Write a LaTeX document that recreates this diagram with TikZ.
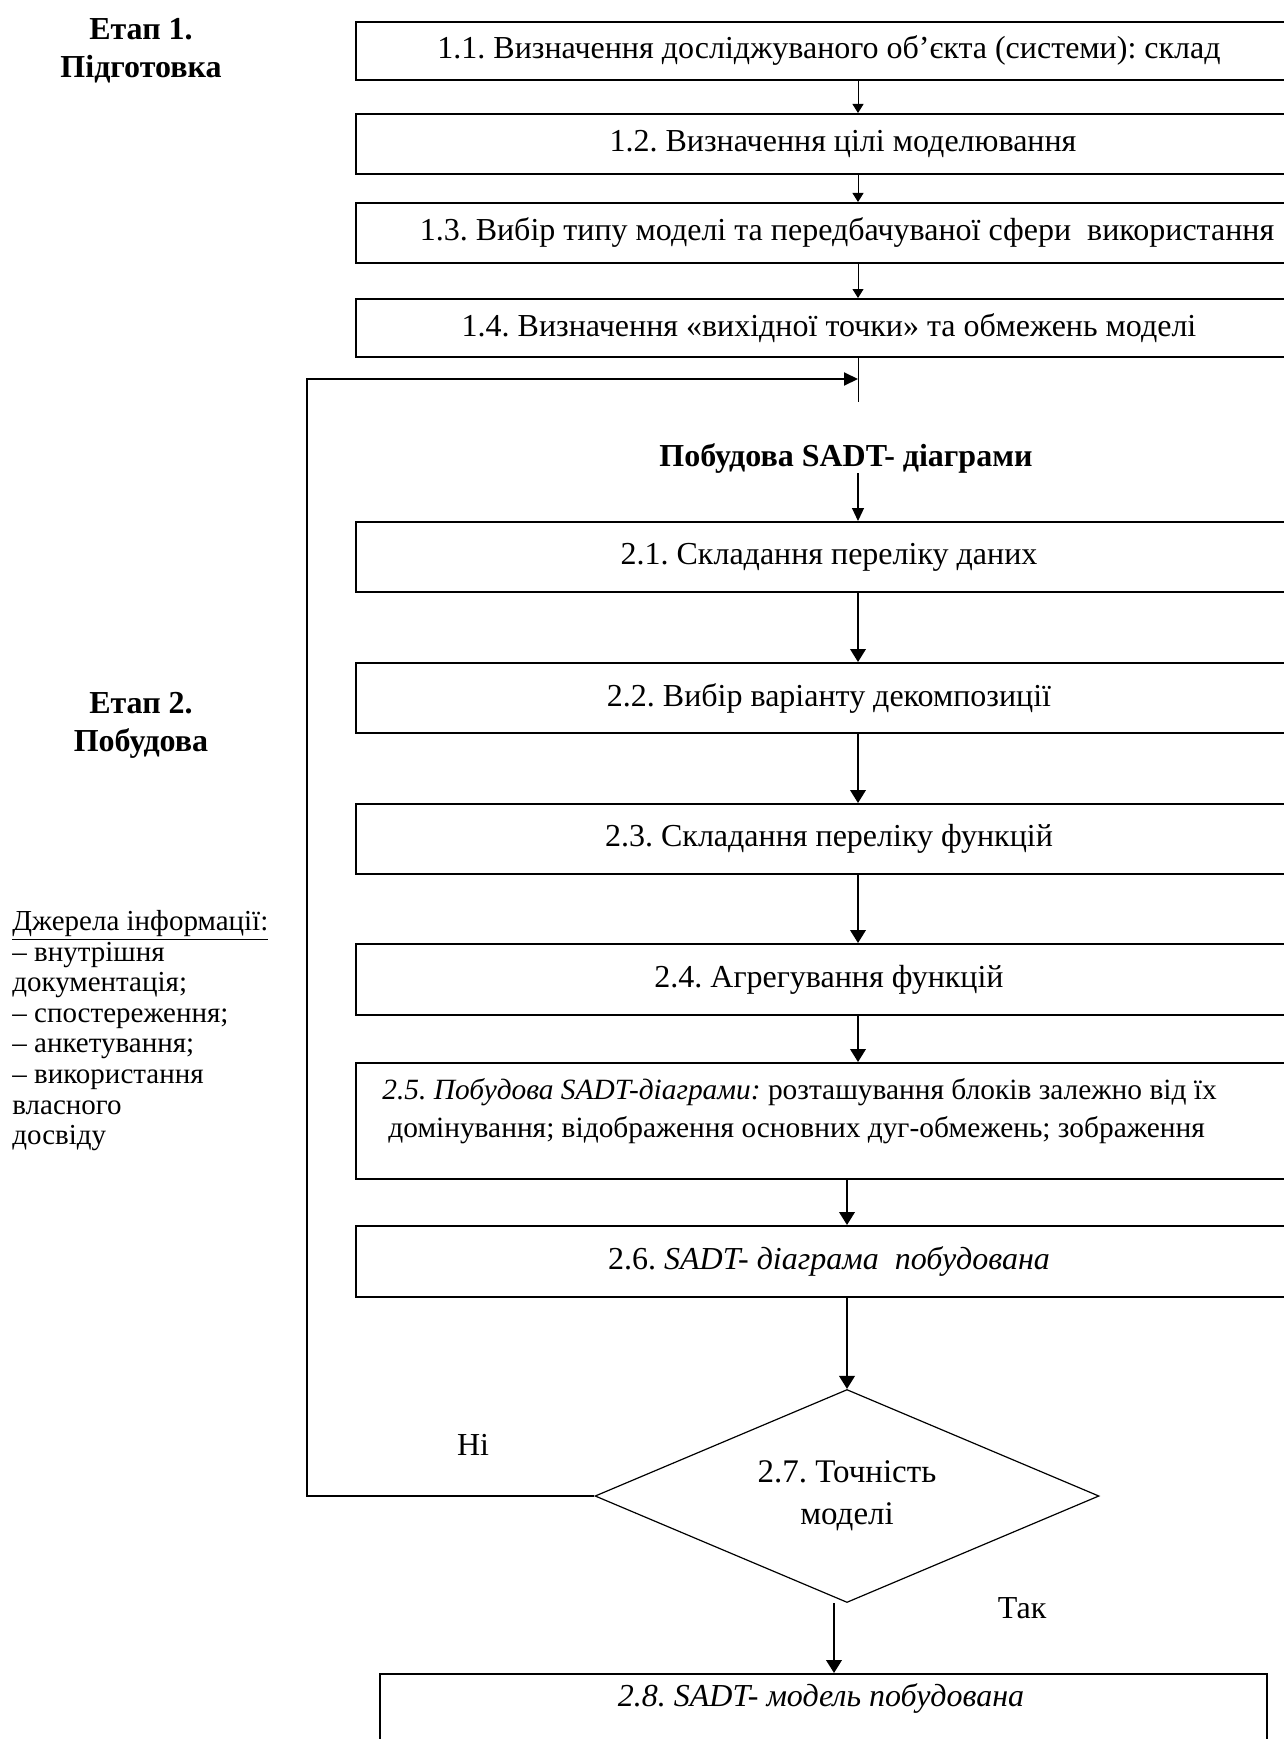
\documentclass[tikz,border=0pt]{standalone}
\usepackage{fontspec}
\setmainfont{Liberation Serif}
\usetikzlibrary{arrows.meta,shapes.geometric}
\frenchspacing

\tikzset{
  stage/.style={draw, line width=1pt, anchor=north west, minimum width=473pt,
    inner sep=0pt, font=\fontsize{16}{19}\selectfont},
  note/.style={inner sep=0pt, font=\fontsize{16}{19}\selectfont},
  phase/.style={inner sep=0pt, align=center, font=\fontsize{16}{19}\selectfont\bfseries},
  sources/.style={inner sep=0pt, align=left, font=\fontsize{14.5}{15.3}\selectfont},
  decision/.style={diamond, draw, line width=0.6pt, aspect=2.37,
    minimum width=252pt, minimum height=106.5pt, inner sep=0pt, align=center,
    font=\fontsize{16.5}{21}\selectfont},
  thinarrow/.style={line width=0.5pt, -{Triangle[width=5.5pt,length=4.5pt]}},
  midarrow/.style={line width=0.6pt, -{Triangle[width=6pt,length=6.5pt]}},
  flowarrow/.style={line width=1pt, -{Triangle[width=7.8pt,length=6.5pt]}},
  looparrow/.style={line width=1pt, -{Triangle[width=6.5pt,length=7pt]}}
}

\begin{document}
\begin{tikzpicture}[x=0.5pt, y=-0.5pt]
\useasboundingbox (0,0) rectangle (1284,1739);

% stage headings
\node[phase] (e1) at (141,51) {Етап 1.\\Підготовка};
\node[phase] (e2) at (141,725) {Етап 2.\\Побудова};

% information sources
\node[sources, anchor=north west] (src) at (12,910)
  {\underline{Джерела інформації:}\\
   – внутрішня\\
   документація;\\
   – спостереження;\\
   – анкетування;\\
   – використання\\
   власного\\
   досвіду};

% stage 1: preparation
\node[stage, minimum height=29pt] (b11) at (355,21)
  {1.1. Визначення досліджуваного об’єкта (системи): склад};
\node[stage, minimum height=30pt] (b12) at (355,113)
  {\hspace*{14pt}1.2. Визначення цілі моделювання};
\node[stage, minimum height=30pt] (b13) at (355,202)
  {\hspace*{18pt}1.3. Вибір типу моделі та передбачуваної сфери\ \ використання};
\node[stage, minimum height=29pt] (b14) at (355,298)
  {1.4. Визначення «вихідної точки» та обмежень моделі};

\coordinate (ax) at (858,0);
\coordinate (stub) at (858,402);
\coordinate (jn) at (858,379);
\coordinate (loopx) at (307,379);

\draw[thinarrow] (b11.south -| ax) -- (b12.north -| ax);
\draw[thinarrow] (b12.south -| ax) -- (b13.north -| ax);
\draw[thinarrow] (b13.south -| ax) -- (b14.north -| ax);
\draw[line width=0.5pt] (b14.south -| ax) -- (stub);

% stage 2: construction
\node[phase] (t2) at (846,458) {Побудова SADT- діаграми};

\node[stage, minimum height=35pt] (b21) at (355,521)
  {2.1. Складання переліку даних};
\node[stage, minimum height=35pt] (b22) at (355,662)
  {2.2. Вибір варіанту декомпозиції};
\node[stage, minimum height=35pt] (b23) at (355,803)
  {2.3. Складання переліку функцій};
\node[stage, minimum height=35.5pt] (b24) at (355,943)
  {2.4. Агрегування функцій};
\node[stage, minimum height=58pt] (b25) at (355,1062) {};
\node[note, anchor=west, align=left, font=\fontsize{14.7}{19}\selectfont] (b25t) at (382,1111)
  {\textit{2.5. Побудова SADT-діаграми:} розташування блоків залежно від їх\\
   \hspace*{3pt}домінування; відображення основних дуг-обмежень; зображення};
\node[stage, minimum height=35.5pt] (b26) at (355,1225)
  {2.6. \textit{SADT- діаграма\ \ побудована}};

\node[decision] (d) at (847,1496) {2.7. Точність\\моделі};

\node[draw, line width=1pt, anchor=north west, minimum width=443.5pt,
  minimum height=45pt, inner sep=0pt] (b28) at (379,1673) {};
\node[note] (b28t) at (821,1698) {\textit{2.8. SADT- модель побудована}};

\node[note] (no) at (473,1445) {Ні};
\node[note] (yes) at (1022,1608) {Так};

\coordinate (ax3) at (834,0);

\draw[midarrow] (t2.south -| ax) -- (b21.north -| ax);
\draw[flowarrow] (b21.south -| ax) -- (b22.north -| ax);
\draw[flowarrow] (b22.south -| ax) -- (b23.north -| ax);
\draw[flowarrow] (b23.south -| ax) -- (b24.north -| ax);
\draw[flowarrow] (b24.south -| ax) -- (b25.north -| ax);
\draw[flowarrow] (b25.south -| d.north) -- (b26.north -| d.north);
\draw[flowarrow] (b26.south -| d.north) -- (d.north);
\draw[flowarrow] (d.south -| ax3) -- (b28.north -| ax3);

% return path when the model is not accurate
\draw[looparrow] (d.west) -| (loopx) -- (jn);
\end{tikzpicture}
\end{document}
